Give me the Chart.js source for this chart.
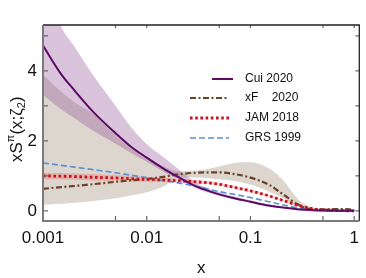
<!DOCTYPE html>
<html>
<head>
<meta charset="utf-8">
<script src="https://cdn.jsdelivr.net/npm/chart.js@4.4.0/dist/chart.umd.min.js"></script>
<style>
  html, body { margin: 0; padding: 0; background: #fff; }
  #wrap { width: 366px; height: 278px; }
</style>
</head>
<body>
<div id="wrap"><canvas id="myChart" width="366" height="278"></canvas></div>
<script>
// x grid (momentum fraction)
const xVals = [0.001, 0.0015, 0.002, 0.003, 0.005, 0.007, 0.01, 0.015, 0.02, 0.03, 0.05, 0.07, 0.1, 0.15, 0.2, 0.3, 0.4, 0.5, 0.6, 0.7, 0.8, 0.9, 1];

// Cui 2020 central + band
const cui   = [4.72, 3.90, 3.45, 2.85, 2.22, 1.84, 1.52, 1.18, 0.97, 0.70, 0.47, 0.36, 0.26, 0.15, 0.10, 0.04, 0.02, 0.01, 0.005, 0.003, 0.001, 0, 0];
const cuiUp = [6.60, 5.25, 4.70, 3.90, 3.00, 2.40, 1.90, 1.50, 1.20, 0.80, 0.53, 0.41, 0.30, 0.18, 0.12, 0.05, 0.03, 0.02, 0.01, 0.005, 0.003, 0.001, 0];
const cuiLo = [3.31, 2.90, 2.65, 2.30, 1.92, 1.66, 1.40, 1.09, 0.91, 0.64, 0.43, 0.32, 0.23, 0.12, 0.08, 0.03, 0.01, 0.005, 0, 0, 0, 0, 0];

// xF 2020 central + band
const xf   = [0.63, 0.68, 0.71, 0.76, 0.83, 0.87, 0.91, 0.98, 1.04, 1.09, 1.10, 1.05, 0.95, 0.75, 0.50, 0.15, 0.04, 0.04, 0.05, 0.05, 0.05, 0.04, 0];
const xfUp = [3.89, 3.40, 3.10, 2.78, 2.15, 1.80, 1.50, 1.25, 1.13, 1.15, 1.27, 1.37, 1.39, 1.22, 0.92, 0.28, 0.08, 0.06, 0.06, 0.06, 0.06, 0.05, 0];
const xfLo = [0.17, 0.20, 0.23, 0.28, 0.36, 0.44, 0.53, 0.72, 0.93, 0.95, 0.90, 0.85, 0.75, 0.55, 0.38, 0.10, 0.02, 0.01, 0.01, 0.01, 0.01, 0.01, 0];

// JAM 2018 central + band
const jam   = [1.00, 0.99, 0.98, 0.96, 0.94, 0.92, 0.90, 0.88, 0.86, 0.83, 0.76, 0.67, 0.57, 0.43, 0.31, 0.14, 0.06, 0.03, 0.02, 0.01, 0.005, 0, 0];
const jamUp = [1.09, 1.08, 1.07, 1.05, 1.02, 1.00, 0.97, 0.94, 0.92, 0.88, 0.80, 0.71, 0.61, 0.46, 0.34, 0.16, 0.08, 0.04, 0.03, 0.02, 0.01, 0.005, 0];
const jamLo = [0.91, 0.90, 0.89, 0.87, 0.86, 0.84, 0.83, 0.82, 0.80, 0.78, 0.72, 0.63, 0.53, 0.40, 0.28, 0.12, 0.04, 0.02, 0.01, 0, 0, 0, 0];

// GRS 1999
const grs = [1.37, 1.30, 1.25, 1.18, 1.09, 1.02, 0.95, 0.86, 0.80, 0.70, 0.55, 0.47, 0.38, 0.26, 0.18, 0.07, 0.03, 0.01, 0.005, 0, 0, 0, 0];

// axis ticks
const xTickLabels = [0.001, 0.01, 0.1, 1];
const xTickMarks = [0.001, 0.005, 0.01, 0.05, 0.1, 0.5, 1];
const yTickLabels = [0, 2, 4];
const yTickMarks = [0, 1, 2, 3, 4, 5];

const pts = arr => arr.map((y, i) => ({ x: xVals[i], y: y }));
const FONT = "'Liberation Sans', Arial, sans-serif";

function band(up, lo, color, order) {
    return [
        { data: pts(up), borderWidth: 0, pointRadius: 0, fill: '+1', backgroundColor: color, order: order, cubicInterpolationMode: 'monotone' },
        { data: pts(lo), borderWidth: 0, pointRadius: 0, fill: false, order: order, cubicInterpolationMode: 'monotone' }
    ];
}

function line(label, arr, color, width, dash, order, legendPos) {
    return {
        label: label, data: pts(arr), borderColor: color, borderWidth: width, borderDash: dash,
        pointRadius: 0, fill: false, order: order, cubicInterpolationMode: 'monotone',
        legendPos: legendPos
    };
}

const datasets = [
    ...band(xfUp, xfLo, 'rgba(120,90,60,0.25)', 10),
    ...band(cuiUp, cuiLo, 'rgba(130,60,140,0.30)', 9),
    ...band(jamUp, jamLo, 'rgba(235,90,90,0.30)', 8),
    line('GRS 1999', grs, '#5b8fd6', 1.6, [6, 3], 4, [190, 229, 138]),
    line('xF    2020', xf, '#6b4226', 2.2, [6, 2.5, 2, 2.5], 3, [190, 229, 98]),
    line('JAM 2018', jam, '#c8101e', 2.8, [2.6, 2.6], 2, [190, 229, 118]),
    line('Cui 2020', cui, '#5c0a64', 2, [], 1, [212, 233, 79])
];

const framePlugin = {
    id: 'frame',
    afterDraw(chart) {
        const ctx = chart.ctx;
        const a = chart.chartArea;
        const xs = chart.scales.x, ys = chart.scales.y;
        ctx.save();
        // ticks
        ctx.lineWidth = 1.2;
        ctx.strokeStyle = '#666';
        xTickMarks.forEach(v => {
            const px = xs.getPixelForValue(v);
            ctx.beginPath(); ctx.moveTo(px, a.bottom); ctx.lineTo(px, a.bottom - 5); ctx.stroke();
            ctx.beginPath(); ctx.moveTo(px, a.top); ctx.lineTo(px, a.top + 3); ctx.stroke();
        });
        yTickMarks.forEach(v => {
            const py = ys.getPixelForValue(v);
            ctx.beginPath(); ctx.moveTo(a.left, py); ctx.lineTo(a.left + 5, py); ctx.stroke();
            ctx.beginPath(); ctx.moveTo(a.right, py); ctx.lineTo(a.right - 4, py); ctx.stroke();
        });
        // frame
        ctx.strokeStyle = '#222';
        ctx.lineWidth = 1.3;
        ctx.beginPath(); ctx.moveTo(a.left, a.top); ctx.lineTo(a.right, a.top); ctx.lineTo(a.right, a.bottom); ctx.stroke();
        ctx.strokeStyle = '#7a7a7a';
        ctx.lineWidth = 2;
        ctx.beginPath(); ctx.moveTo(a.left, a.top); ctx.lineTo(a.left, a.bottom); ctx.lineTo(a.right, a.bottom); ctx.stroke();

        // legend
        ctx.font = '12px ' + FONT;
        ctx.textBaseline = 'middle';
        ctx.fillStyle = '#111';
        chart.data.datasets.forEach(ds => {
            if (!ds.legendPos) return;
            const [x0, x1, y] = ds.legendPos;
            ctx.strokeStyle = ds.borderColor;
            ctx.lineWidth = ds.borderWidth;
            ctx.setLineDash(ds.borderDash);
            ctx.beginPath(); ctx.moveTo(x0, y); ctx.lineTo(x1, y); ctx.stroke();
            ctx.setLineDash([]);
            ctx.fillText(ds.label, 245, y);
        });

        // axis titles
        ctx.fillStyle = '#111';
        ctx.font = '17px ' + FONT;
        ctx.textAlign = 'center';
        ctx.textBaseline = 'middle';
        ctx.fillText('x', (a.left + a.right) / 2, 268);

        ctx.translate(22, 162);
        ctx.rotate(-Math.PI / 2);
        ctx.textAlign = 'left';
        ctx.textBaseline = 'alphabetic';
        let cx = 0;
        const part = (t, size, dy) => {
            ctx.font = size + 'px ' + FONT;
            ctx.fillText(t, cx, dy);
            cx += ctx.measureText(t).width;
        };
        part('xS', 17, 0);
        part('\u03c0', 11, -8);
        part('(x;\u03b6', 17, 0);
        part('2', 11, 3);
        part(')', 17, 0);
        ctx.restore();
    }
};

const ctx = document.getElementById('myChart').getContext('2d');
const myChart = new Chart(ctx, {
    type: 'line',
    data: { datasets: datasets },
    options: {
        responsive: false,
        animation: false,
        layout: { padding: { top: 25, right: 5, left: 0, bottom: 0 } },
        plugins: { legend: { display: false }, tooltip: { enabled: false } },
        scales: {
            x: {
                type: 'logarithmic',
                min: 0.001,
                max: 1.12,
                grid: { display: false, drawTicks: false },
                border: { display: false },
                afterBuildTicks: s => { s.ticks = xTickLabels.map(v => ({ value: v })); },
                afterFit: s => { s.height = 57; },
                ticks: {
                    padding: 7, color: '#111', maxRotation: 0, autoSkip: false,
                    font: { size: 17, family: FONT },
                    callback: v => String(v)
                }
            },
            y: {
                min: -0.29,
                max: 5.31,
                grid: { display: false, drawTicks: false },
                border: { display: false },
                afterBuildTicks: s => { s.ticks = yTickLabels.map(v => ({ value: v })); },
                afterFit: s => { s.width = 43; },
                ticks: {
                    padding: 6, color: '#111',
                    font: { size: 17, family: FONT }
                }
            }
        }
    },
    plugins: [framePlugin]
});
</script>
</body>
</html>
